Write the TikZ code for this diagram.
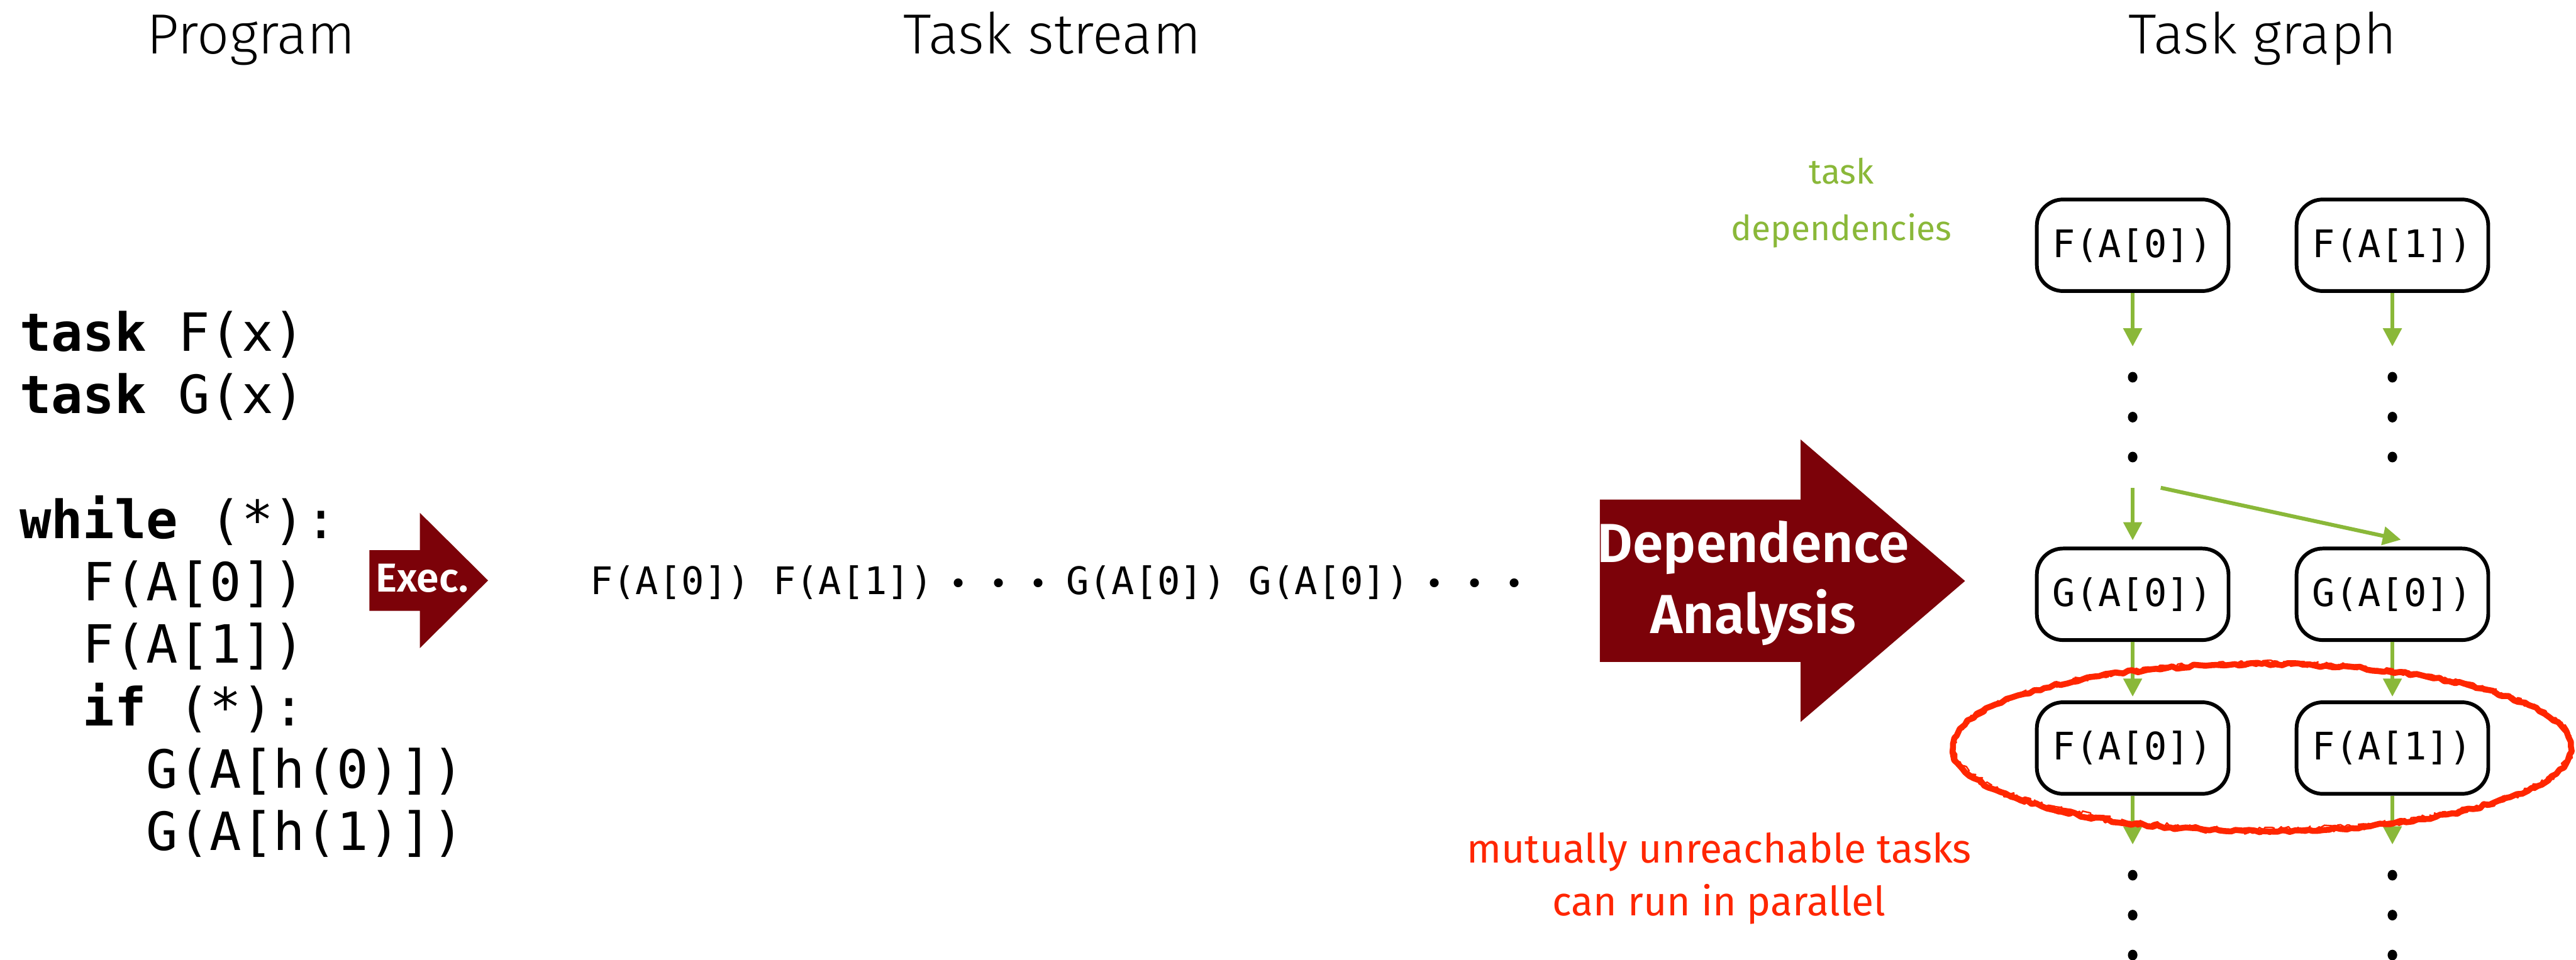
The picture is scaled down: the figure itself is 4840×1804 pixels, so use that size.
\documentclass[tikz,border=0pt]{standalone}
\usepackage{fontspec}
\setmainfont{Fira Sans}
\newfontfamily\lightsans{Fira Sans Light}
\newfontfamily\semisans{Fira Sans SemiBold}
\setmonofont{DejaVu Sans Mono}
\usetikzlibrary{arrows.meta,decorations.pathmorphing,calc}

\definecolor{execred}{RGB}{124,2,9}
\definecolor{depgreen}{RGB}{138,184,57}
\definecolor{markred}{RGB}{255,38,0}

% one drawing unit (1/100 cm)
\newlength\pu
\setlength\pu{0.01cm}
% a small centred dot of the task stream
\newcommand\streamdot{\makebox[75\pu]{\scalebox{0.8}{•}}}

\tikzset{
  title/.style={font=\lightsans\fontsize{30.2}{36}\selectfont, inner sep=0, anchor=base},
  code/.style={font=\ttfamily\fontsize{28.17}{33.35}\selectfont, inner sep=0, anchor=base west},
  stream/.style={font=\ttfamily\fontsize{20.29}{24}\selectfont, inner sep=0, anchor=base west},
  taskbox/.style={draw, line width=2pt, rounded corners=14pt, minimum width=3.6cm,
    minimum height=1.72cm, inner sep=0, font=\ttfamily\fontsize{20.29}{24}\selectfont},
  vdots/.style={inner sep=0, minimum width=1.04cm, minimum height=2.64cm,
    path picture={
      \foreach \dy in {-0.75,0,0.75}
        \fill ($(path picture bounding box.center)+(0cm,\dy cm)$)
          ellipse[x radius=0.09cm, y radius=0.1cm];}},
  dep/.style={draw=depgreen, line width=2.07pt,
    -{Triangle[width=9.7pt,length=9.7pt]}},
  bigarrow/.style={fill=execred},
  arrowtext/.style={text=white, inner sep=0, anchor=base},
  greennote/.style={text=depgreen, inner sep=0, anchor=base,
    font=\fontsize{18.5}{30.2}\selectfont},
  rednote/.style={text=markred, inner sep=0, anchor=base,
    font=\fontsize{21.6}{28.0}\selectfont},
  ring/.style={markred, line join=round, decorate},
}

\begin{document}
\begin{tikzpicture}[x=0.01cm, y=-0.01cm]
\useasboundingbox (0,0) rectangle (4840,1804);

% column headings
\node[title] (hprog) at (472,101) {Program};
\node[title] (hstream) at (1977,101) {Task stream};
\node[title] (hgraph) at (4251,101) {Task graph};

% the program
\node[code] (prog) at (36,660) {\begin{tabular}[t]{@{}l@{}}
\textbf{task} F(x)\\
\textbf{task} G(x)\\
\mbox{}\\
\textbf{while} (*):\\
\hspace*{1.204em}F(A[0])\\
\hspace*{1.204em}F(A[1])\\
\hspace*{1.204em}\textbf{if} (*):\\
\hspace*{2.408em}G(A[h(0)])\\
\hspace*{2.408em}G(A[h(1)])
\end{tabular}};

% execution arrow
\fill[bigarrow] (694,1034) -- (789,1034) -- (789,964) -- (917,1091)
  -- (789,1218) -- (789,1148) -- (694,1148) -- cycle;
\node[arrowtext, font=\semisans\fontsize{21.6}{25}\selectfont] (exec) at (793,1113) {Exec.};

% the stream of tasks
\node[stream] (strm) at (1108,1117) {F(A[0]) F(A[1])\hspace{10.5\pu}%
\streamdot\streamdot\streamdot\hspace{14.5\pu}%
G(A[0]) G(A[0])\hspace{10.5\pu}%
\streamdot\streamdot\streamdot};

% dependence analysis arrow
\fill[bigarrow] (3006,939) -- (3383,939) -- (3383,826) -- (3692,1092)
  -- (3383,1357) -- (3383,1244) -- (3006,1244) -- cycle;
\node[arrowtext, font=\semisans\fontsize{29.4}{38.1}\selectfont] (dana) at (3294,1057)
  {\begin{tabular}[t]{@{}c@{}}Dependence\\Analysis\end{tabular}};

% task graph
\node[taskbox] (f0) at (4007,461) {F(A[0])};
\node[taskbox] (f1) at (4495,461) {F(A[1])};
\node[vdots] (s1) at (4007,784) {};
\node[vdots] (s2) at (4495,784) {};
\node[taskbox] (g0) at (4007,1117) {G(A[0])};
\node[taskbox] (g1) at (4495,1117) {G(A[0])};
\node[taskbox] (f2) at (4007,1406) {F(A[0])};
\node[taskbox] (f3) at (4495,1406) {F(A[1])};
\node[vdots] (s3) at (4007,1720) {};
\node[vdots] (s4) at (4495,1720) {};

\draw[dep] (f0) -- (s1);
\draw[dep] (f1) -- (s2);
\draw[dep, shorten >=3.4pt] (s1) -- (g0);
\draw[dep] (s1.south east) -- ($(g1.north)+(16,-13)$);
\draw[dep, shorten >=2pt] (g0) -- (f2);
\draw[dep, shorten >=2pt] (g1) -- (f3);
\draw[dep] (f2) -- (s3);
\draw[dep] (f3) -- (s4);

% labels
\node[greennote] (tdep) at (3460,346)
  {\begin{tabular}[t]{@{}c@{}}task\\dependencies\end{tabular}};
\node[rednote] (par) at (3230,1622)
  {\begin{tabular}[t]{@{}c@{}}mutually unreachable tasks\\can run in parallel\end{tabular}};

% hand-drawn ring around the independent tasks
\draw[ring, line width=3.2pt,
  decoration={random steps, segment length=3pt, amplitude=0.8pt}]
  (4250,1405) ellipse[x radius=5.8cm, y radius=1.57cm];
\draw[ring, line width=1.3pt,
  decoration={random steps, segment length=2pt, amplitude=1.3pt}]
  (4250,1405) ellipse[x radius=5.81cm, y radius=1.578cm];
\draw[ring, line width=0.8pt,
  decoration={random steps, segment length=1.5pt, amplitude=1.6pt}]
  (4252,1403) ellipse[x radius=5.79cm, y radius=1.566cm];
\end{tikzpicture}
\end{document}
